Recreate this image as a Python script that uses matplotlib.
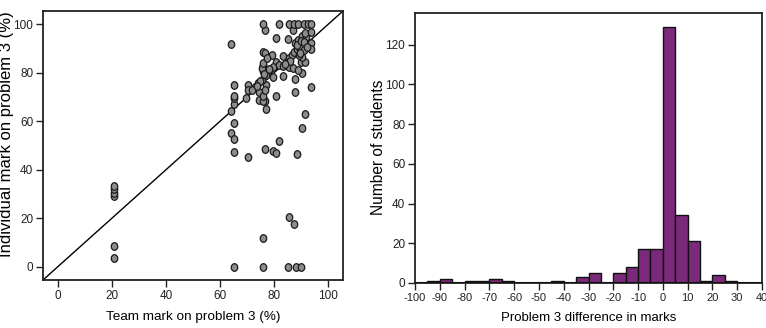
import numpy as np
import matplotlib
matplotlib.use("Agg")
import matplotlib.pyplot as plt
from matplotlib.path import Path

plt.rcParams['font.family'] = ['Liberation Sans Narrow', 'Liberation Sans', 'DejaVu Sans']
plt.rcParams['axes.unicode_minus'] = False

# scatter: team mark vs individual mark
team_mark = [65.1, 75.8, 85.0, 88.1, 89.9,
             20.9, 20.9, 20.9, 20.9, 20.9, 20.9,
             75.8, 85.6, 87.3,
             65.1, 70.4, 76.7, 79.5, 80.7, 81.7, 88.3,
             64.0, 65.1, 65.1, 64.0, 65.1, 65.1, 65.1, 65.1,
             70.3, 70.3, 69.6, 72.8, 74.0, 77.0, 76.7, 74.6, 75.8,
             91.5, 90.2, 93.6, 87.8, 80.7, 77.0, 75.7, 75.8, 75.8, 75.8, 76.8,
             79.5, 83.3, 87.8, 90.2, 79.2, 83.3, 80.7, 81.9, 83.2, 85.6, 87.1, 88.7,
             79.5, 78.3, 85.5, 86.5, 87.5, 88.5, 89.3, 90.3, 91.2, 92.4, 93.6, 93.6,
             87.8, 88.9, 90.5, 91.8, 91.5, 93.6, 87.1, 85.1, 80.6, 76.7,
             75.8, 81.7, 85.4, 87.5, 89.0, 91.0, 92.5, 93.6,
             64.0, 89.9, 91.5, 90.5, 89.3,
             74.6, 75.8, 76.5, 77.0, 75.5, 76.0, 77.2, 76.3, 78.0, 74.8,
             72.0, 73.5, 88.5, 90.0, 91.0, 92.0, 89.5, 86.0, 84.0]
indiv_mark = [0, 0, 0, 0, 0,
              3.4, 8.5, 29.2, 30.5, 31.9, 33.3,
              12.0, 20.6, 17.5,
              47.5, 45.4, 48.7, 47.9, 47.0, 52.0, 46.5,
              55.0, 52.8, 59.1, 64.2, 67.0, 69.7, 70.6, 75.1,
              75.1, 72.9, 69.7, 74.0, 75.7, 64.9, 68.5, 68.8, 68.5,
              63.1, 57.1, 74.3, 71.9, 70.6, 75.0, 77.0, 80.7, 83.2, 88.4, 88.3,
              78.4, 78.7, 77.6, 80.1, 87.3, 87.1, 84.6, 83.2, 82.9, 82.5, 81.8, 81.2,
              82.5, 81.2, 86.0, 87.3, 88.7, 89.7, 90.8, 90.1, 89.4, 91.1, 92.2, 90.0,
              92.2, 93.5, 95.2, 94.6, 96.3, 97.0, 97.7, 93.8, 94.5, 97.7,
              100, 100, 100, 100, 100, 100, 100, 100,
              91.7, 84.6, 84.6, 86.6, 87.3,
              72.0, 70.5, 73.0, 79.0, 82.0, 84.0, 86.0, 79.5, 81.5, 76.5,
              73.0, 74.5, 91.5, 93.0, 92.5, 90.5, 88.0, 85.0, 83.5]

# histogram: difference in marks, bins of 5
bin_edges = [-95, -90, -85, -80, -75, -70, -65, -60, -55, -50, -45, -40, -35,
             -30, -25, -20, -15, -10, -5, 0, 5, 10, 15, 20, 25, 30]
bin_counts = [1, 2, 0, 1, 1, 2, 1, 0, 0, 0, 1, 0, 3,
              5, 0, 5, 8, 17, 17, 129, 34, 21, 1, 4, 1]

# slightly tall oval marker, like the original
t = np.linspace(0, 2 * np.pi, 40)
oval = Path(np.column_stack([0.85 * np.cos(t), np.sin(t)]), closed=True)

fig = plt.figure(figsize=(7.66, 3.28), dpi=100)
ax1 = fig.add_axes([0.0561, 0.1463, 0.3917, 0.8202])
ax2 = fig.add_axes([0.5418, 0.1372, 0.4530, 0.8232])

tick_fs = 8.5

# left panel
lo, hi = -5.5, 105.5
ax1.plot([lo, hi], [lo, hi], color='black', lw=1.0, zorder=1)
ax1.scatter(team_mark, indiv_mark, s=30, marker=oval, facecolor='#8c8c8c',
            edgecolor='#1a1a1a', linewidths=0.9, zorder=2)
ax1.set_xlim(lo, hi)
ax1.set_ylim(lo, hi)
ax1.set_xticks(range(0, 101, 20))
ax1.set_yticks(range(0, 101, 20))
ax1.set_xlabel('Team mark on problem 3 (%)', fontsize=9.7)
ax1.set_ylabel('Individual mark on problem 3 (%)', fontsize=12)
ax1.xaxis.set_label_coords(0.5, -0.115)
ax1.yaxis.set_label_coords(-0.095, 0.543)

# right panel
widths = np.diff(bin_edges)
ax2.bar(bin_edges[:-1], bin_counts, width=widths, align='edge', color='#7b2a7b',
        edgecolor='#111111', linewidth=1.0, zorder=2)
ax2.axhline(0, color='#111111', lw=1.5, zorder=3)
ax2.set_xlim(-100, 40)
ax2.set_ylim(0, 136)
ax2.set_xticks(range(-100, 41, 10))
ax2.set_yticks(range(0, 121, 20))
ax2.set_xlabel('Problem 3 difference in marks', fontsize=9.5)
ax2.set_ylabel('Number of students', fontsize=11.2)
ax2.xaxis.set_label_coords(0.5, -0.108)
ax2.yaxis.set_label_coords(-0.083, 0.502)

for ax in (ax1, ax2):
    for sp in ax.spines.values():
        sp.set_linewidth(1.3)
        sp.set_color('#222222')
    ax.tick_params(direction='out', length=5, width=1.0, labelsize=tick_fs,
                   colors='#222222', pad=2)
ax2.tick_params(axis='x', labelsize=8)

fig.savefig('out.png', dpi=100)
